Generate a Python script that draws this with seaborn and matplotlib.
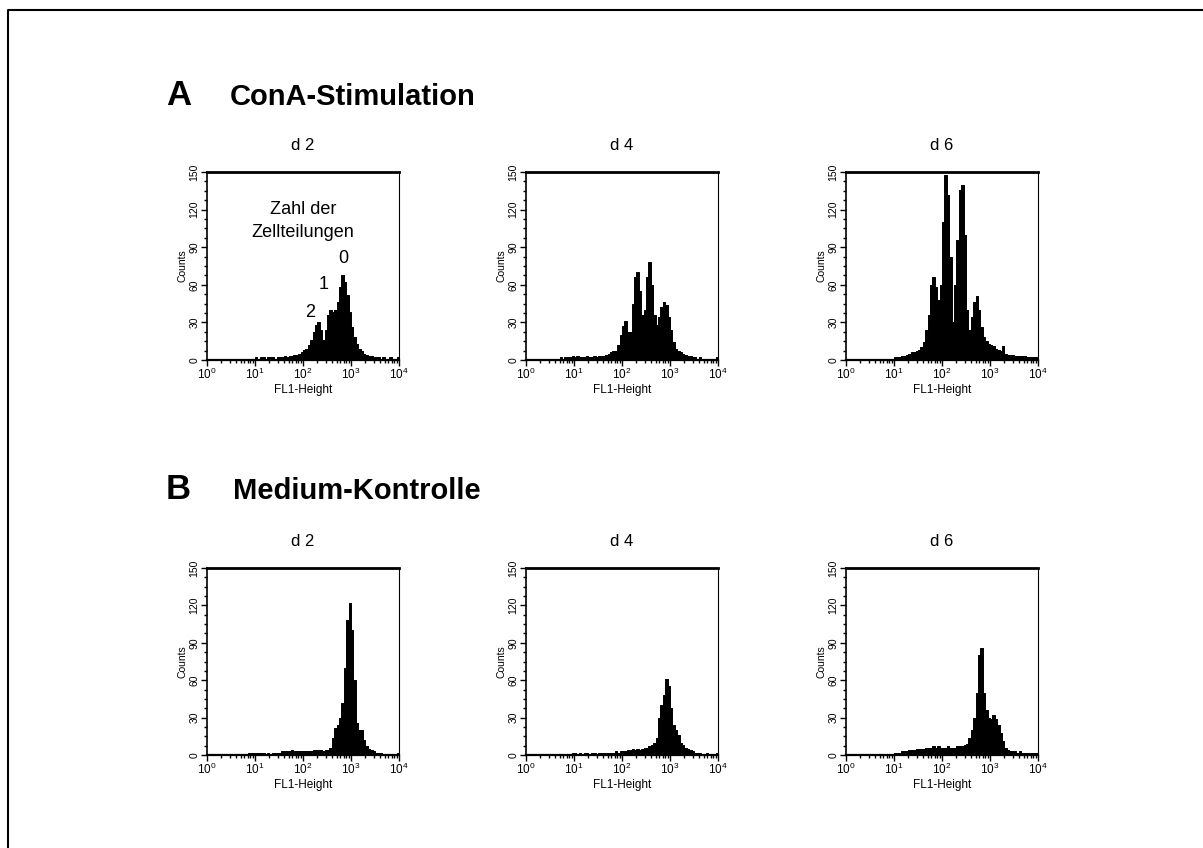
import numpy as np
import pandas as pd
import matplotlib
matplotlib.use("Agg")
import matplotlib.pyplot as plt
from matplotlib.lines import Line2D
import seaborn as sns

sns.set_theme(style="white")
plt.rcParams['font.family'] = ['Liberation Sans', 'DejaVu Sans']
plt.rcParams['mathtext.fontset'] = 'custom'
plt.rcParams['mathtext.rm'] = 'Liberation Sans'
plt.rcParams['mathtext.it'] = 'Liberation Sans:italic'
plt.rcParams['mathtext.bf'] = 'Liberation Sans:bold'
plt.rcParams['text.color'] = 'black'
plt.rcParams['axes.labelcolor'] = 'black'
plt.rcParams['xtick.color'] = 'black'
plt.rcParams['ytick.color'] = 'black'

# ---- data: histogram counts per 0.05-decade channel (log10 FL1-Height 0..4) ----
conA_d2 = [0, 0, 0, 0, 0, 1, 0, 0, 1, 0, 1, 0, 1, 1, 0, 1, 1, 1, 1, 1,
           2, 1, 2, 2, 1, 2, 2, 2, 1, 2, 2, 2, 3, 2, 3, 3, 4, 4, 5, 6,
           8, 9, 12, 16, 22, 28, 30, 24, 16, 24, 36, 40, 38, 40, 46, 58, 68, 62, 52, 38,
           26, 18, 13, 9, 7, 5, 4, 3, 3, 2, 2, 2, 1, 2, 1, 1, 2, 1, 1, 2]
conA_d4 = [0, 0, 0, 0, 0, 0, 0, 0, 0, 0, 1, 0, 1, 1, 2, 1, 2, 2, 2, 3,
           2, 3, 2, 2, 2, 3, 2, 2, 3, 2, 3, 3, 3, 4, 5, 6, 7, 7, 12, 20,
           27, 31, 22, 22, 45, 66, 70, 55, 36, 40, 66, 78, 60, 36, 28, 34, 42, 46, 44, 34,
           24, 14, 9, 7, 6, 5, 4, 3, 3, 2, 2, 1, 2, 1, 1, 1, 1, 1, 1, 2]
conA_d6 = [0, 0, 0, 0, 0, 0, 0, 0, 0, 0, 0, 0, 0, 0, 0, 0, 0, 0, 1, 1,
           2, 2, 2, 3, 3, 4, 5, 6, 6, 7, 8, 10, 14, 24, 36, 60, 66, 58, 48, 60,
           110, 148, 132, 82, 30, 60, 96, 136, 140, 100, 40, 24, 34, 46, 51, 40, 26, 18, 15, 13,
           12, 11, 9, 8, 7, 11, 5, 4, 4, 4, 3, 3, 3, 3, 3, 2, 2, 2, 2, 2]
med_d2 = [0, 0, 0, 0, 0, 0, 0, 0, 0, 1, 0, 0, 0, 0, 1, 1, 1, 2, 2, 2,
          2, 2, 2, 2, 1, 2, 1, 2, 2, 2, 2, 3, 3, 3, 3, 4, 3, 3, 3, 3,
          3, 3, 3, 3, 4, 4, 4, 4, 3, 4, 4, 6, 14, 22, 24, 30, 42, 70, 108, 122,
          100, 60, 26, 20, 20, 12, 7, 5, 4, 3, 2, 2, 2, 1, 1, 1, 1, 1, 1, 2]
med_d4 = [0, 0, 0, 0, 0, 0, 0, 0, 0, 0, 0, 0, 1, 0, 1, 1, 1, 1, 1, 2,
          2, 1, 2, 1, 2, 2, 1, 2, 2, 1, 2, 2, 2, 2, 2, 2, 2, 3, 2, 3,
          3, 3, 4, 4, 5, 4, 5, 4, 5, 6, 6, 7, 8, 10, 14, 30, 40, 48, 61, 55,
          38, 24, 20, 16, 10, 8, 6, 5, 4, 3, 2, 2, 2, 1, 1, 2, 1, 1, 1, 2]
med_d6 = [0, 0, 0, 0, 0, 0, 0, 0, 0, 0, 0, 0, 0, 0, 0, 0, 0, 0, 0, 1,
          2, 2, 2, 3, 3, 3, 4, 4, 4, 5, 5, 5, 5, 6, 6, 6, 7, 6, 7, 6,
          6, 6, 7, 6, 6, 6, 7, 7, 7, 8, 9, 14, 20, 30, 50, 80, 86, 50, 36, 30,
          29, 32, 29, 24, 18, 11, 6, 4, 3, 3, 3, 2, 3, 2, 2, 2, 2, 2, 2, 2]

day_labels = ["d 2", "d 4", "d 6"]
row_letters = ["A", "B"]
row_titles = ["ConA-Stimulation", "Medium-Kontrolle"]
y_ticks = [0, 30, 60, 90, 120, 150]
decades = [0, 1, 2, 3, 4]
annot_numbers = ["0", "1", "2"]
annot_x = [2.85, 2.44, 2.15]
annot_y = [81, 60, 38]

rows = [[conA_d2, conA_d4, conA_d6], [med_d2, med_d4, med_d6]]

n_bins = len(conA_d2)
edges = np.linspace(0, 4, n_bins + 1)
centers = (edges[:-1] + edges[1:]) / 2

W, H = 1203, 848
fig = plt.figure(figsize=(W / 100, H / 100), dpi=100)
fig.patch.set_facecolor("white")

col_left = [207, 526, 846]
row_top = [172, 568]
row_bottom = [360, 755]
ax_w = 192

minor_x = [d + np.log10(m) for d in range(4) for m in range(2, 10)]
minor_y = [v for v in np.arange(0, 151, 7.5) if v % 30 != 0]

for r in range(2):
    for c in range(3):
        l = col_left[c] / W
        b = (H - row_bottom[r]) / H
        h = (row_bottom[r] - row_top[r]) / H
        ax = fig.add_axes([l, b, ax_w / W, h])
        df = pd.DataFrame({"x": centers, "w": np.asarray(rows[r][c], dtype=float)})
        sns.histplot(data=df, x="x", weights="w", bins=n_bins, binrange=(0, 4),
                     element="step", fill=True, color="black", alpha=1,
                     linewidth=0.7, ax=ax)
        ax.set_xlim(0, 4)
        ax.set_ylim(0, 150)
        ax.set_facecolor("white")
        ax.grid(False)
        for side in ["left", "right", "top", "bottom"]:
            ax.spines[side].set_visible(True)
            ax.spines[side].set_color("black")
        ax.spines["top"].set_linewidth(2.0)
        ax.spines["right"].set_linewidth(0.8)
        ax.spines["left"].set_linewidth(1.2)
        ax.spines["bottom"].set_linewidth(1.6)

        ax.set_xticks(decades)
        ax.set_xticklabels([r"$\mathregular{10^{%d}}$" % d for d in decades], fontsize=8.5)
        ax.set_xticks(minor_x, minor=True)
        ax.set_yticks(y_ticks)
        ax.set_yticklabels([str(v) for v in y_ticks], fontsize=7.5, rotation=90, va="center")
        ax.set_yticks(minor_y, minor=True)
        ax.tick_params(axis="both", which="major", direction="out", length=4, width=1,
                       color="black", pad=1.5, bottom=True, left=True)
        ax.tick_params(axis="both", which="minor", direction="out", length=2.5, width=1,
                       color="black", bottom=True, left=True)
        ax.tick_params(axis="x", which="major", pad=1)

        ax.set_xlabel("FL1-Height", fontsize=8.5, labelpad=1)
        ax.set_ylabel("Counts", fontsize=7.5, labelpad=1)
        ax.text(0.5, 1 + 27 / 188, day_labels[c], transform=ax.transAxes,
                ha="center", va="center", fontsize=12)

        if r == 0 and c == 0:
            ax.text(2.0, 120, "Zahl der", ha="center", va="center", fontsize=13)
            ax.text(2.0, 102, "Zellteilungen", ha="center", va="center", fontsize=13)
            for t, xx, yy in zip(annot_numbers, annot_x, annot_y):
                ax.text(xx, yy, t, ha="center", va="center", fontsize=13)

# row headers
hdr_base = [105, 499]
title_left = [230, 233]
for r in range(2):
    yb = 1 - hdr_base[r] / H
    fig.text(166 / W, yb, row_letters[r], fontsize=25, fontweight="bold",
             ha="left", va="baseline")
    fig.text(title_left[r] / W, yb, row_titles[r], fontsize=21, fontweight="bold",
             ha="left", va="baseline")

# page frame (left & top edges)
fig.add_artist(Line2D([8 / W, 8 / W, 1.0], [0.0, 1 - 10 / H, 1 - 10 / H],
                      transform=fig.transFigure, color="black", linewidth=1.5))

fig.savefig("out.png", dpi=100, facecolor="white")
